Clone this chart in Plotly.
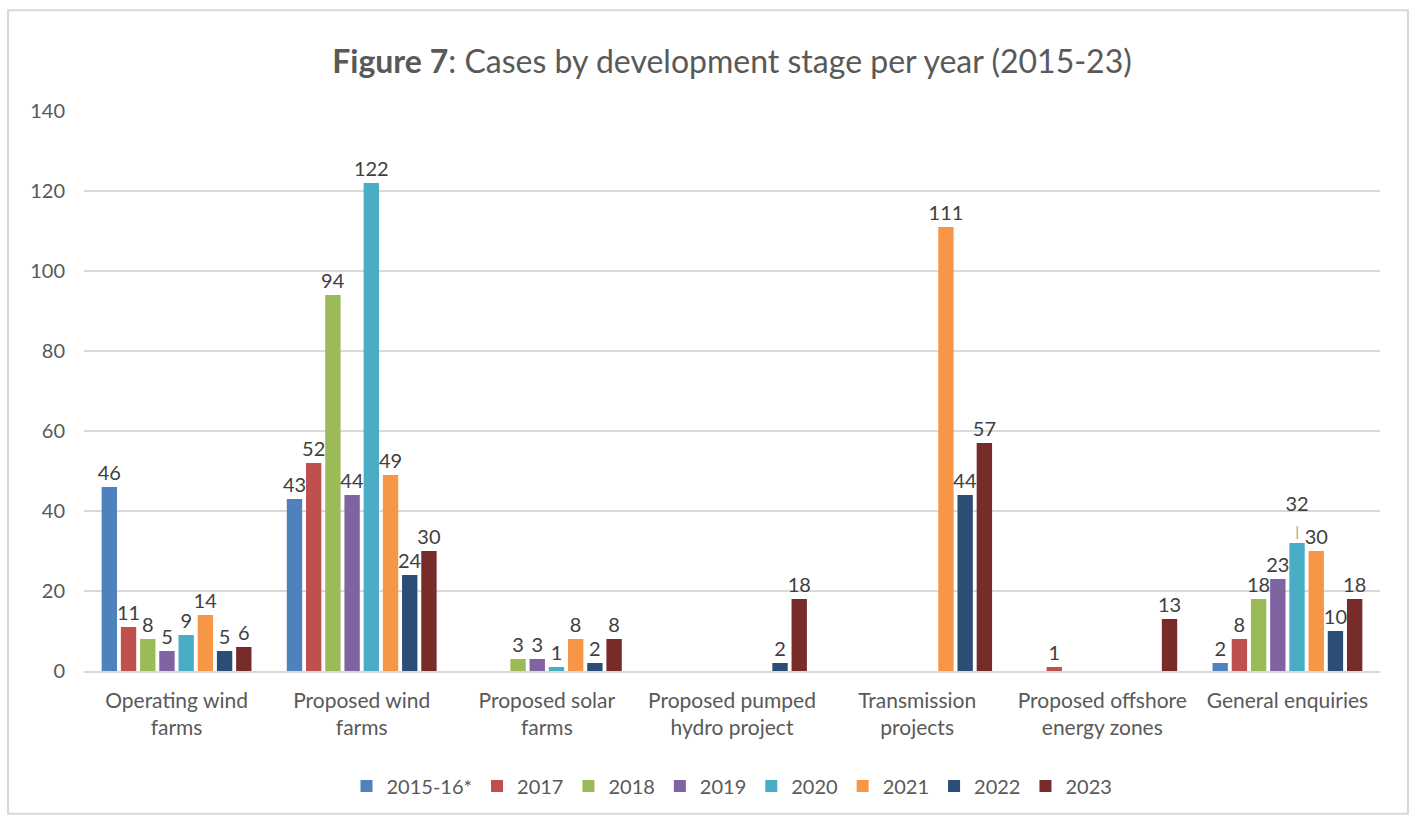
import plotly.graph_objects as go

# development stages (x categories)
stages = [
    "Operating wind<br>farms",
    "Proposed wind<br>farms",
    "Proposed solar<br>farms",
    "Proposed pumped<br>hydro project",
    "Transmission<br>projects",
    "Proposed offshore<br>energy zones",
    "General enquiries",
]

years = ["2015-16*", "2017", "2018", "2019", "2020", "2021", "2022", "2023"]

# cases per year, None = no cases (no bar / label)
cases_2015_16 = [46, 43, None, None, None, None, 2]
cases_2017 = [11, 52, None, None, None, 1, 8]
cases_2018 = [8, 94, 3, None, None, None, 18]
cases_2019 = [5, 44, 3, None, None, None, 23]
cases_2020 = [9, 122, 1, None, None, None, 32]
cases_2021 = [14, 49, 8, None, 111, None, 30]
cases_2022 = [5, 24, 2, 2, 44, None, 10]
cases_2023 = [6, 30, 8, 18, 57, 13, 18]

series = [cases_2015_16, cases_2017, cases_2018, cases_2019,
          cases_2020, cases_2021, cases_2022, cases_2023]

colors = ["#4F81BD", "#C0504D", "#9BBB59", "#8064A2",
          "#4BACC6", "#F79646", "#2C4D75", "#772C2A"]

# labels Excel pulled up with a leader line: (year, stage index)
lifted = {("2020", 6)}

FONT = "Lato, 'Open Sans', sans-serif"
GREY = "#595959"

fig = go.Figure()
for name, vals, col in zip(years, series, colors):
    labels = []
    for i, v in enumerate(vals):
        if not v:
            labels.append("")
        elif (name, i) in lifted:
            labels.append(f"{v}<br><span style='font-size:13px;"
                          f"fill:#8c8c8c'>|</span>")
        else:
            labels.append(str(v))
    fig.add_trace(go.Bar(
        x=stages, y=vals, name=name,
        marker=dict(color=col, line=dict(width=0)),
        text=labels,
        textposition="outside",
        constraintext="none",
        textfont=dict(size=20, color="#404040", family=FONT),
        cliponaxis=False,
    ))

# plot area in pixels
W, H = 1412, 816
L, R, T, B = 84, 32, 111, 144
pw, ph = W - L - R, H - T - B

def px_x(p):
    return (p - L) / pw

def px_y(p):
    return (H - B - p) / ph

fig.update_layout(
    width=W, height=H,
    margin=dict(l=L, r=R, t=T, b=B),
    paper_bgcolor="white", plot_bgcolor="white",
    font=dict(family=FONT, color=GREY, size=20),
    barmode="group", bargap=0.17, bargroupgap=0.2,
    title=dict(
        text="<b>Figure 7</b>: Cases by development stage per year (2015-23)",
        x=0.5, xanchor="center", xref="paper",
        y=1 - 62 / H, yanchor="middle", yref="container",
        font=dict(size=32, color=GREY, family=FONT),
    ),
    xaxis=dict(
        showgrid=False, showline=True, linecolor="#D9D9D9", linewidth=1.5,
        ticks="", tickfont=dict(size=21, color=GREY), ticklabelstandoff=10,
    ),
    yaxis=dict(
        range=[0, 140], dtick=20, showgrid=True, gridcolor="#D9D9D9",
        gridwidth=1.5, zeroline=False, showline=False, ticks="",
        tickfont=dict(size=20, color=GREY), ticklabelstandoff=18,
    ),
    legend=dict(
        orientation="h", x=0.5, xanchor="center",
        y=px_y(786), yanchor="middle",
        font=dict(size=20, color=GREY), itemwidth=30,
        traceorder="normal",
    ),
    shapes=[dict(
        type="rect", xref="paper", yref="paper",
        x0=px_x(8), x1=px_x(1408), y0=px_y(815), y1=px_y(10),
        line=dict(color="#D9D9D9", width=2), layer="below",
    )],
)

# drop the default page margin so the figure sits at the window origin
fig.write_html("out.html", config={"displayModeBar": False},
               post_script="document.body.style.margin='0';")
